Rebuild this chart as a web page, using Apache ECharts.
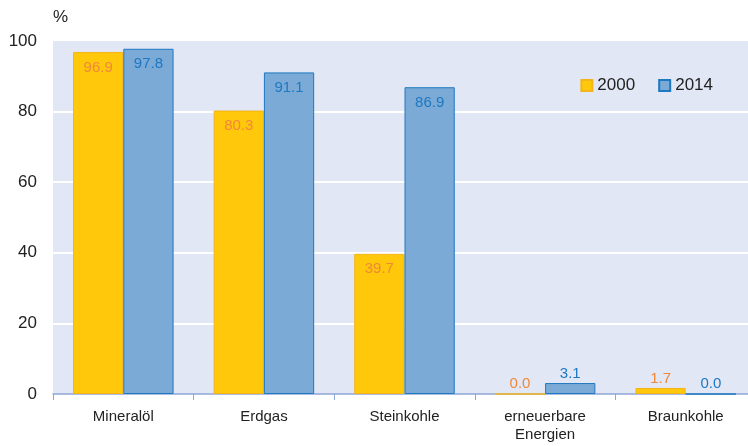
<!DOCTYPE html>
<html>
<head>
<meta charset="utf-8">
<script src="https://cdn.jsdelivr.net/npm/echarts@6/dist/echarts.min.js"></script>
<style>
html, body { margin: 0; padding: 0; background: #fff; }
#chart { width: 748px; height: 446px; }
</style>
</head>
<body>
<div id="chart"></div>
<script>
// Kategorien und Werte (in %)
const categories = ["Mineralöl", "Erdgas", "Steinkohle", "erneuerbare\nEnergien", "Braunkohle"];
const values2000 = [96.9, 80.3, 39.7, 0.0, 1.7];
const values2014 = [97.8, 91.1, 86.9, 3.1, 0.0];
const yTicks = [0, 20, 40, 60, 80, 100];

// grosse Balken: Zahl innen oben, kleine Balken: Zahl darueber
function toItems(vals) {
  return vals.map(function (v) {
    return {
      value: v,
      label: { position: v > 10 ? "insideTop" : "top", distance: v > 10 ? 8 : 2 }
    };
  });
}

let myChart = echarts.init(document.getElementById("chart"));
let option = {
  animation: false,
  textStyle: { fontFamily: "Liberation Sans, Arial, sans-serif" },
  legend: {
    right: 30,
    top: 72,
    icon: "rect",
    itemWidth: 11,
    itemHeight: 11,
    itemGap: 23,
    textStyle: { fontSize: 17, color: "#222" },
    data: ["2000", "2014"]
  },
  grid: {
    left: 53,
    right: -8,
    top: 41,
    bottom: 52,
    outerBoundsMode: "none",
    containLabel: false,
    show: true,
    backgroundColor: "#E1E7F4",
    borderWidth: 0
  },
  xAxis: {
    type: "category",
    data: categories,
    axisLine: { lineStyle: { color: "#8FA7D6", width: 1.5 } },
    axisTick: { show: true, length: 6, lineStyle: { color: "#8FA7D6" } },
    axisLabel: { fontSize: 15, color: "#222", margin: 14, lineHeight: 18 }
  },
  yAxis: {
    type: "value",
    min: yTicks[0],
    max: yTicks[yTicks.length - 1],
    interval: 20,
    name: "%",
    nameLocation: "end",
    nameGap: 15,
    nameTextStyle: { fontSize: 17, color: "#222", align: "left" },
    axisLine: { show: false },
    axisTick: { show: false },
    axisLabel: { fontSize: 17, color: "#222", margin: 16 },
    splitLine: {
      lineStyle: { color: "#ffffff", width: 2 },
      showMinLine: false,
      showMaxLine: false
    }
  },
  series: [
    {
      name: "2000",
      type: "bar",
      barGap: "0%",
      barCategoryGap: "28.5%",
      data: toItems(values2000),
      itemStyle: { color: "#FFC80B", borderColor: "#F4B41A", borderWidth: 1 },
      label: {
        show: true,
        color: "#F0883A",
        fontSize: 15,
        formatter: function (p) { return p.value.toFixed(1); }
      }
    },
    {
      name: "2014",
      type: "bar",
      data: toItems(values2014),
      itemStyle: { color: "#7BAAD6", borderColor: "#1E78C2", borderWidth: 1 },
      label: {
        show: true,
        color: "#1E78C2",
        fontSize: 15,
        formatter: function (p) { return p.value.toFixed(1); }
      }
    }
  ]
};
myChart.setOption(option);
</script>
</body>
</html>
